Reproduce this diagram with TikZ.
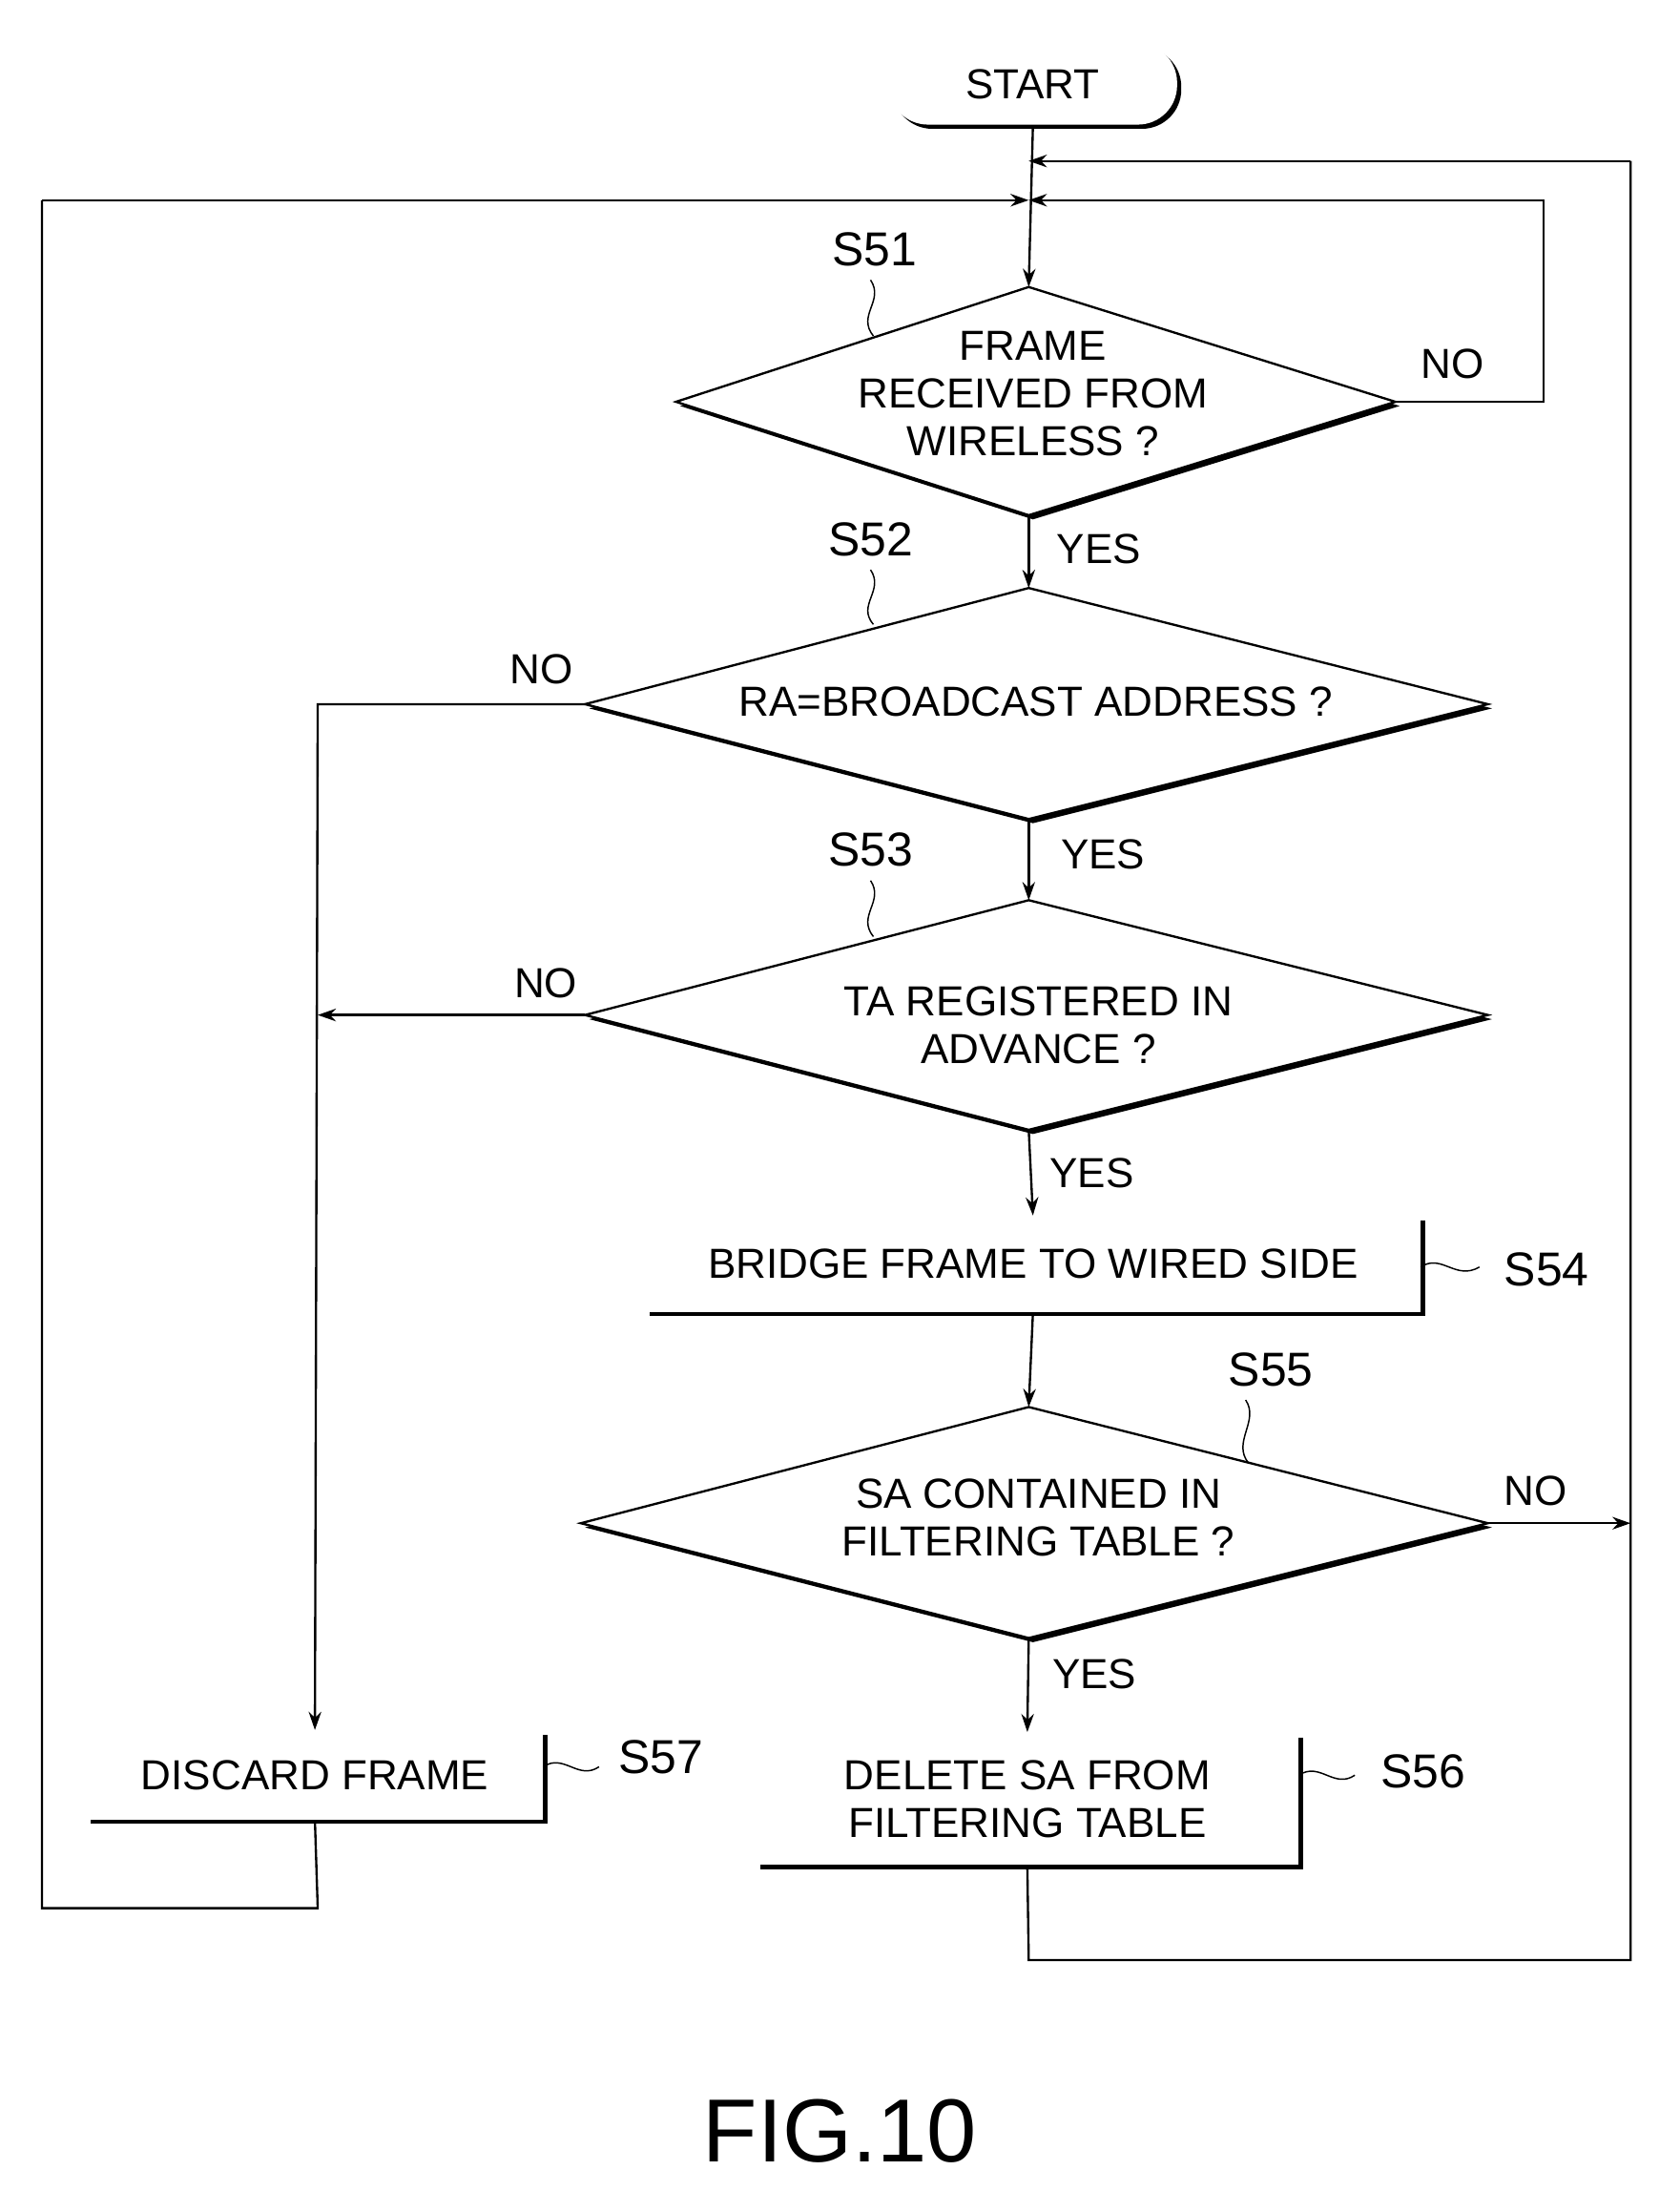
\documentclass[tikz,border=0pt]{standalone}
\usepackage{fontspec}
\setmainfont{Liberation Sans}
\usetikzlibrary{arrows.meta,shadows}
\begin{document}
\begin{tikzpicture}[x=1pt,y=-1pt,
  lw/.style={line width=1.6pt},
  sh/.style={lw,fill=white,drop shadow={shadow xshift=3pt,shadow yshift=-3pt,opacity=1,fill=black}},
  txt/.style={font=\fontsize{30}{34}\selectfont,align=center,inner sep=0},
  lab/.style={font=\fontsize{34}{38}\selectfont,inner sep=0},
  arr/.style={lw,-{Stealth[length=13pt,width=9pt]}},
  ln/.style={lw}]
\useasboundingbox (0,0) rectangle (1200,1565);
% start
\node[sh,rounded corners=28pt,minimum width=206pt,minimum height=58pt,txt] (start) at (738,60) {START};
\coordinate (j1) at (735,115);
\coordinate (j2) at (735,143);
% S51
\draw[sh] (735,205) coordinate (d1t) -- (997,287) coordinate (d1r) -- (735,368) coordinate (d1b) -- (483,287) coordinate (d1l) -- cycle;
\node[txt] (t1) at (738,281) {FRAME\\RECEIVED FROM\\WIRELESS ?};
% S52
\draw[sh] (735,420) coordinate (d2t) -- (1063,503) coordinate (d2r) -- (735,585) coordinate (d2b) -- (418,503) coordinate (d2l) -- cycle;
\node[txt] (t2) at (740,501) {RA=BROADCAST ADDRESS ?};
% S53
\draw[sh] (735,643) coordinate (d3t) -- (1063,725) coordinate (d3r) -- (735,807) coordinate (d3b) -- (418,725) coordinate (d3l) -- cycle;
\node[txt] (t3) at (742,732) {TA REGISTERED IN\\ADVANCE ?};
% S54
\node[sh,txt,minimum width=554pt,minimum height=68pt] (b4) at (738,903) {BRIDGE FRAME TO WIRED SIDE};
% S55
\draw[sh] (735,1005) coordinate (d5t) -- (1063,1088) coordinate (d5r) -- (735,1170) coordinate (d5b) -- (415,1088) coordinate (d5l) -- cycle;
\node[txt] (t5) at (742,1084) {SA CONTAINED IN\\FILTERING TABLE ?};
% S56
\node[sh,txt,minimum width=388pt,minimum height=94pt] (b6) at (734,1285) {DELETE SA FROM\\FILTERING TABLE};
% S57
\node[sh,txt,minimum width=326pt,minimum height=63pt] (b7) at (225,1268) {DISCARD FRAME};
% connectors
\draw[arr] (start.south) -- (d1t);
\draw[arr] (d1b) -- (d2t);
\draw[arr] (d2b) -- (d3t);
\draw[arr] (d3b) -- (b4.north);
\draw[arr] (b4.south) -- (d5t);
\draw[arr] (d5b) -- (b6.north);
\draw[ln] (d1r) -- (1103,287) -- (1103,143) -- (760,143);
\draw[arr] (1103,143) -- (j2);
\draw[arr] (d2l) -- (227,503) -- (b7.north);
\draw[arr] (d3l) -- (227,725);
\draw[arr] (d5r) -- (1165,1088);
\draw[ln] (b6.south) -- (735,1400) -- (1165,1400) -- (1165,115);
\draw[arr] (1165,115) -- (j1);
\draw[ln] (b7.south) -- (227,1363) -- (30,1363) -- (30,143);
\draw[arr] (30,143) -- (j2);
% labels
\node[txt] at (1038,260) {NO};
\node[txt] at (785,392) {YES};
\node[txt] at (387,478) {NO};
\node[txt] at (788,610) {YES};
\node[txt] at (390,702) {NO};
\node[txt] at (780,838) {YES};
\node[txt] at (1097,1065) {NO};
\node[txt] at (782,1196) {YES};
\node[lab] at (625,178) {S51};
\node[lab] at (622,385) {S52};
\node[lab] at (622,607) {S53};
\node[lab] at (1105,907) {S54};
\node[lab] at (908,978) {S55};
\node[lab] at (1017,1265) {S56};
\node[lab] at (472,1255) {S57};
\draw[lw,line width=1pt] (622,200) .. controls (632,215) and (612,225) .. (624,240);
\draw[lw,line width=1pt] (622,407) .. controls (632,422) and (612,432) .. (624,446);
\draw[lw,line width=1pt] (622,629) .. controls (632,644) and (612,654) .. (624,669);
\draw[lw,line width=1pt] (1015,905) .. controls (1030,895) and (1040,915) .. (1057,905);
\draw[lw,line width=1pt] (890,1000) .. controls (900,1015) and (880,1030) .. (892,1045);
\draw[lw,line width=1pt] (928,1268) .. controls (943,1258) and (953,1278) .. (968,1268);
\draw[lw,line width=1pt] (388,1262) .. controls (403,1252) and (413,1272) .. (428,1262);
\node[font=\fontsize{64}{70}\selectfont,inner sep=0] (fig) at (600,1522) {FIG.10};
\end{tikzpicture}
\end{document}
